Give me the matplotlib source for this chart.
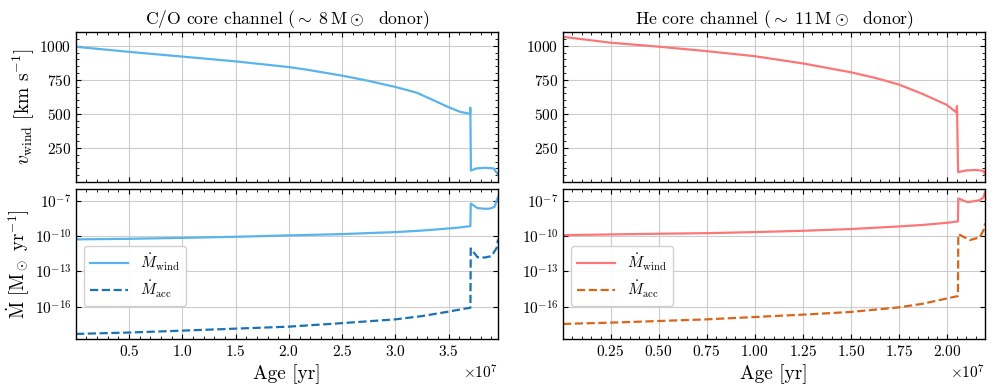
import numpy as np
import matplotlib
matplotlib.use("Agg")
import matplotlib.pyplot as plt
from matplotlib.ticker import NullLocator, AutoMinorLocator

plt.rcParams.update({
    "font.family": "serif",
    "font.serif": ["cmr10"],
    "mathtext.fontset": "cm",
    "axes.formatter.use_mathtext": True,
    "axes.unicode_minus": False,
    "font.size": 11,
    "xtick.direction": "in",
    "ytick.direction": "in",
    "xtick.top": True,
    "ytick.right": True,
    "xtick.minor.visible": True,
    "ytick.minor.visible": True,
    "xtick.major.size": 3.5,
    "ytick.major.size": 3.5,
    "xtick.minor.size": 2,
    "ytick.minor.size": 2,
    "axes.linewidth": 1.0,
})

# --- C/O core channel (ages in units of 1e7 yr) ---
co_v_age = [0.003, 0.5, 1.0, 1.5, 2.0, 2.17, 2.5, 2.73, 3.0, 3.2, 3.356, 3.5, 3.606, 3.700,
            3.702, 3.708, 3.76, 3.84, 3.92, 3.962]
co_v = [992, 955, 920, 885, 843, 824, 780, 745, 697, 655, 600, 548, 515, 500,
        545, 84, 100, 104, 100, 55]

co_mw_age = [0.003, 0.5, 1.0, 1.5, 2.0, 2.5, 3.0, 3.25, 3.5, 3.6, 3.703, 3.706, 3.77, 3.84,
             3.89, 3.93, 3.962]
co_mw_log = [-10.28, -10.23, -10.15, -10.06, -9.94, -9.83, -9.66, -9.53, -9.35, -9.27, -9.15,
             -7.23, -7.62, -7.68, -7.66, -7.5, -6.66]

co_ma_age = [0.003, 0.5, 1.0, 1.5, 2.0, 2.5, 3.0, 3.25, 3.5, 3.6, 3.703, 3.706, 3.77, 3.84,
             3.90, 3.95, 3.962]
co_ma_log = [-18.32, -18.2, -18.04, -17.87, -17.7, -17.4, -17.08, -16.8, -16.42, -16.25, -16.09,
             -11.05, -11.8, -11.82, -11.7, -11.0, -10.28]

# --- He core channel ---
he_v_age = [0.003, 0.25, 0.5, 0.75, 1.0, 1.25, 1.5, 1.632, 1.75, 1.875, 2.0, 2.049,
            2.052, 2.058, 2.10, 2.15, 2.19, 2.198]
he_v = [1065, 1022, 993, 960, 923, 870, 805, 762, 715, 645, 565, 510,
        557, 72, 85, 88, 82, 55]

he_mw_age = [0.003, 0.25, 0.5, 0.75, 1.0, 1.25, 1.5, 1.75, 1.875, 2.0, 2.057, 2.059, 2.108,
             2.17, 2.19, 2.198]
he_mw_log = [-9.92, -9.86, -9.8, -9.75, -9.66, -9.55, -9.4, -9.18, -9.05, -8.87, -8.75, -6.8,
             -7.12, -6.95, -6.7, -6.26]

he_ma_age = [0.003, 0.25, 0.5, 0.75, 1.0, 1.25, 1.5, 1.75, 1.875, 2.0, 2.057, 2.059, 2.118,
             2.17, 2.19, 2.198]
he_ma_log = [-17.47, -17.36, -17.22, -17.08, -16.88, -16.68, -16.45, -16.06, -15.75, -15.3,
             -15.1, -9.83, -10.34, -10.11, -9.5, -8.92]

panels = [
    ("C/O core channel ($\\sim\\; 8\\,\\mathrm{M}\\odot$  donor)", co_v_age, co_v, co_mw_age, co_mw_log,
     co_ma_age, co_ma_log, "#5ab4ea", "#1a72b5"),
    ("He core channel ($\\sim\\; 11\\,\\mathrm{M}\\odot$  donor)", he_v_age, he_v, he_mw_age, he_mw_log,
     he_ma_age, he_ma_log, "#fb7777", "#d9651b"),
]

fig = plt.figure(figsize=(9.96, 3.91), dpi=100)
gs = fig.add_gridspec(2, 2, left=0.0763, right=0.989, top=0.918, bottom=0.133,
                      wspace=0.154, hspace=0.047)

for col, (title, va, v, wa, wl, aa, al, c1, c2) in enumerate(panels):
    ax1 = fig.add_subplot(gs[0, col])
    ax2 = fig.add_subplot(gs[1, col], sharex=ax1)

    ax1.plot(np.array(va) * 1e7, v, color=c1, lw=1.6)
    ax1.set_ylim(0, 1100)
    ax1.set_yticks([250, 500, 750, 1000])
    ax1.yaxis.set_minor_locator(AutoMinorLocator(5))
    ax1.set_title(title, fontsize=12.7)
    ax1.grid(True, color="#cccccc", lw=0.8)
    ax1.tick_params(labelbottom=False)

    ax2.plot(np.array(wa) * 1e7, 10.0 ** np.array(wl), color=c1, lw=1.6,
             label=r"$\dot{M}_{\rm wind}$")
    ax2.plot(np.array(aa) * 1e7, 10.0 ** np.array(al), color=c2, lw=1.6, ls="--",
             label=r"$\dot{M}_{\rm acc}$")
    ax2.set_yscale("log")
    ax2.set_ylim(10 ** -18.75, 10 ** -6.0)
    ax2.set_yticks([1e-16, 1e-13, 1e-10, 1e-7])
    ax2.yaxis.set_minor_locator(NullLocator())
    ax2.grid(True, color="#cccccc", lw=0.8)
    ax2.legend(loc="center left", bbox_to_anchor=(0.0, 0.42), fontsize=11,
               framealpha=0.9, edgecolor="#cccccc", handlelength=2.5, labelspacing=0.4)
    ax2.set_xlim(va[0] * 1e7, va[-1] * 1e7)
    ax2.set_xlabel("Age [yr]", fontsize=14)
    ax2.xaxis.set_minor_locator(AutoMinorLocator(5))

    if col == 0:
        ax1.set_ylabel(r"$v_{\rm wind}$ [km s$^{-1}$]", fontsize=14)
        ax2.set_ylabel(r"$\dot{\rm M}$ [M$_\odot$ yr$^{-1}$]", fontsize=13.5)
        ax1.yaxis.set_label_coords(-0.093, 0.5)
        ax2.yaxis.set_label_coords(-0.105, 0.5)
        ax2.set_xticks([0.5e7, 1.0e7, 1.5e7, 2.0e7, 2.5e7, 3.0e7, 3.5e7])
    else:
        ax2.set_xticks([0.25e7, 0.5e7, 0.75e7, 1.0e7, 1.25e7, 1.5e7, 1.75e7, 2.0e7])

plt.savefig("out.png", dpi=100)
